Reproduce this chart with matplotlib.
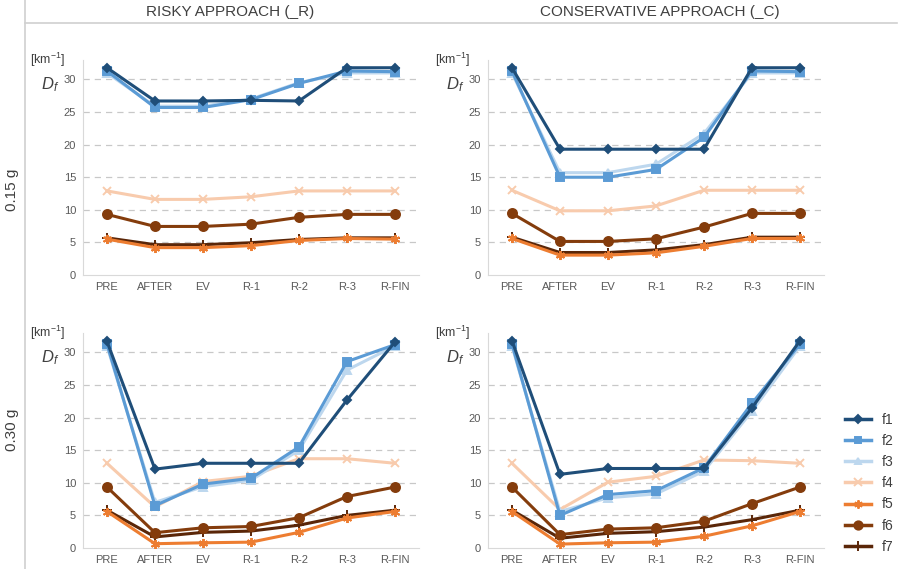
import numpy as np
import matplotlib; matplotlib.use("Agg")
import matplotlib.pyplot as plt
from matplotlib.lines import Line2D

plt.rcParams["font.family"] = ["Liberation Sans", "DejaVu Sans"]
plt.rcParams["mathtext.fontset"] = "custom"
plt.rcParams["mathtext.rm"] = "Liberation Sans"
plt.rcParams["mathtext.it"] = "Liberation Sans:italic"

steps = ["PRE", "AFTER", "EV", "R-1", "R-2", "R-3", "R-FIN"]
names = ["f1", "f2", "f3", "f4", "f5", "f6", "f7"]

# 0.15 g, risky
r15_f1 = [31.8, 26.7, 26.7, 26.8, 26.7, 31.8, 31.8]
r15_f2 = [31.3, 25.7, 25.7, 26.9, 29.4, 31.3, 31.2]
r15_f3 = [31.0, 25.9, 25.9, 27.0, 29.5, 31.0, 31.0]
r15_f4 = [12.9, 11.6, 11.6, 12.0, 12.9, 12.9, 12.9]
r15_f5 = [5.5, 4.2, 4.2, 4.5, 5.3, 5.6, 5.5]
r15_f6 = [9.3, 7.45, 7.45, 7.8, 8.85, 9.3, 9.3]
r15_f7 = [5.7, 4.65, 4.65, 4.95, 5.45, 5.7, 5.7]

# 0.15 g, conservative
c15_f1 = [31.8, 19.3, 19.3, 19.3, 19.3, 31.8, 31.8]
c15_f2 = [31.3, 15.0, 15.0, 16.2, 21.1, 31.3, 31.2]
c15_f3 = [31.0, 15.7, 15.7, 17.0, 21.7, 31.0, 31.0]
c15_f4 = [13.0, 9.85, 9.85, 10.6, 13.0, 13.0, 13.0]
c15_f5 = [5.6, 3.05, 3.05, 3.4, 4.4, 5.6, 5.6]
c15_f6 = [9.45, 5.15, 5.15, 5.55, 7.35, 9.45, 9.45]
c15_f7 = [5.8, 3.45, 3.45, 3.85, 4.65, 5.8, 5.8]

# 0.30 g, risky
r30_f1 = [31.7, 12.1, 13.0, 13.0, 13.0, 22.7, 31.6]
r30_f2 = [31.3, 6.5, 9.8, 10.7, 15.5, 28.6, 31.2]
r30_f3 = [31.0, 7.0, 9.4, 10.4, 15.0, 27.3, 31.0]
r30_f4 = [13.0, 6.3, 10.2, 11.0, 13.7, 13.7, 13.0]
r30_f5 = [5.6, 0.66, 0.8, 0.9, 2.4, 4.6, 5.6]
r30_f6 = [9.35, 2.35, 3.1, 3.3, 4.65, 7.9, 9.35]
r30_f7 = [5.8, 1.7, 2.4, 2.6, 3.5, 5.0, 5.8]

# 0.30 g, conservative
c30_f1 = [31.8, 11.3, 12.2, 12.2, 12.2, 21.5, 31.8]
c30_f2 = [31.3, 5.0, 8.2, 8.8, 12.3, 22.2, 31.3]
c30_f3 = [31.0, 5.6, 7.7, 8.3, 11.8, 21.0, 31.0]
c30_f4 = [13.0, 5.9, 10.1, 11.0, 13.5, 13.4, 13.0]
c30_f5 = [5.6, 0.6, 0.8, 0.9, 1.8, 3.4, 5.6]
c30_f6 = [9.35, 2.05, 2.9, 3.1, 4.1, 6.8, 9.35]
c30_f7 = [5.8, 1.5, 2.25, 2.5, 3.2, 4.35, 5.8]

panels = [
    [r15_f1, r15_f2, r15_f3, r15_f4, r15_f5, r15_f6, r15_f7],
    [c15_f1, c15_f2, c15_f3, c15_f4, c15_f5, c15_f6, c15_f7],
    [r30_f1, r30_f2, r30_f3, r30_f4, r30_f5, r30_f6, r30_f7],
    [c30_f1, c30_f2, c30_f3, c30_f4, c30_f5, c30_f6, c30_f7],
]

colors = ["#1F4E79", "#5B9BD5", "#BDD7EE", "#F8CBAD", "#ED7D31", "#843C0C", "#5A2608"]
markers = ["D", "s", "^", "x", (6, 2, 0), "o", "+"]
msizes = [4.5, 5.5, 5.5, 6, 6.5, 6.5, 7]
order = [3, 4, 6, 5, 2, 1, 0]  # draw order (bottom -> top)

fig = plt.figure(figsize=(8.99, 5.69), dpi=100)
W, H = 0.3737, 0.378
boxes = [(0.0923, 0.5167), (0.5428, 0.5167), (0.0923, 0.0369), (0.5428, 0.0369)]
TICK = "#595959"
x = np.arange(len(steps))

for (l, b), series in zip(boxes, panels):
    ax = fig.add_axes([l, b, W, H])
    for k in order:
        ax.plot(x, series[k], color=colors[k], marker=markers[k], ms=msizes[k],
                lw=2.2, mew=1.4, zorder=3 + (6 - k) * 0.1)
    ax.set_xlim(-0.5, 6.5); ax.set_ylim(0, 33)
    ax.set_yticks([0, 5, 10, 15, 20, 25, 30])
    ax.set_xticks(x); ax.set_xticklabels(steps)
    for yy in [5, 10, 15, 20, 25, 30]:
        ax.axhline(yy, color="#C8C8C8", lw=0.9, ls=(0, (5, 4)), zorder=1)
    for s in ["top", "right"]:
        ax.spines[s].set_visible(False)
    for s in ["left", "bottom"]:
        ax.spines[s].set_color("#D9D9D9")
    ax.tick_params(length=0, labelsize=8, colors=TICK, pad=5)
    ax.text(-0.052, 1.0, "[km$^{-1}$]", transform=ax.transAxes, ha="right", va="center",
            fontsize=9, color="#404040")
    ax.text(-0.07, 0.885, "$D_f$", transform=ax.transAxes, ha="right", va="center",
            fontsize=12, color="#404040")

# frame lines and headers
fig.add_artist(Line2D([25 / 899, 25 / 899], [0, 1], color="#D0D0D0", lw=1.2))
fig.add_artist(Line2D([25 / 899, 897 / 899], [1 - 23 / 569, 1 - 23 / 569], color="#D0D0D0", lw=1.2))
fig.text(230 / 899, 1 - 12 / 569, "RISKY APPROACH (_R)", ha="center", va="center",
         fontsize=11, color="#404040")
fig.text(660 / 899, 1 - 12 / 569, "CONSERVATIVE APPROACH (_C)", ha="center", va="center",
         fontsize=11, color="#404040")
fig.text(12 / 899, 1 - 190 / 569, "0.15 g", rotation=90, ha="center", va="center",
         fontsize=11, color="#404040")
fig.text(12 / 899, 1 - 430 / 569, "0.30 g", rotation=90, ha="center", va="center",
         fontsize=11, color="#404040")

handles = [Line2D([], [], color=colors[k], marker=markers[k], ms=msizes[k] - 0.5, lw=2.5, mew=1.4)
           for k in range(7)]
fig.legend(handles, names, loc="upper left", bbox_to_anchor=(832 / 899, 1 - 400 / 569),
           frameon=False, fontsize=10, handlelength=1.9, labelspacing=0.52,
           handletextpad=0.75, labelcolor="#404040")

fig.savefig("out.png", dpi=100, facecolor="white")
